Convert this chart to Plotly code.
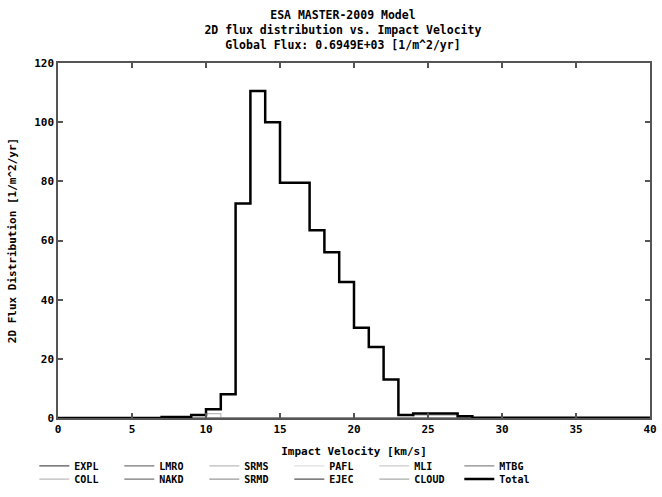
import plotly.graph_objects as go

# Bin edges of impact velocity [km/s] (1 km/s bins, 0..40)
velocity_edges = list(range(0, 41))

# Total 2D flux per bin [1/m^2/yr] (40 bins)
total_flux = [0, 0, 0, 0, 0, 0, 0, 0.3, 0.3, 1.0,
              3.0, 8.0, 72.5, 110.5, 100.0, 79.5, 79.5, 63.5, 56.0, 46.0,
              30.5, 24.0, 13.0, 1.0, 1.5, 1.5, 1.5, 0.6, 0.1, 0.1,
              0.1, 0.1, 0.1, 0.1, 0.1, 0.1, 0.1, 0.1, 0.1, 0.1]

# Visible component (light grey) per bin
coll_flux = [0, 0, 0, 0, 0, 0, 0, 0, 0, 0,
             1.5, 0, 0, 0, 0, 0, 0, 0, 0, 0,
             0, 0, 0, 0, 1.0, 1.0, 1.0, 0, 0, 0,
             0, 0, 0, 0, 0, 0, 0, 0, 0, 0]

zero_flux = [0] * 40

row1_names = ["EXPL", "LMRO", "SRMS", "PAFL", "MLI", "MTBG"]
row2_names = ["COLL", "NAKD", "SRMD", "EJEC", "CLOUD", "Total"]
row1_colors = ["#555555", "#777777", "#bbbbbb", "#e0e0e0", "#cccccc", "#888888"]
row2_colors = ["#bbbbbb", "#777777", "#999999", "#555555", "#aaaaaa", "#000000"]

x_ticks = [0, 5, 10, 15, 20, 25, 30, 35, 40]
y_ticks = [0, 20, 40, 60, 80, 100, 120]

FONT = "DejaVu Sans Mono"


def step_y(vals):
    return list(vals) + [vals[-1]]


fig = go.Figure()

for name, col in zip(row1_names, row1_colors):
    fig.add_trace(go.Scatter(x=velocity_edges, y=step_y(zero_flux), mode="lines",
                             line=dict(shape="hv", color=col, width=1.2),
                             name=name, legend="legend"))

for name, col in zip(row2_names, row2_colors):
    if name == "Total":
        vals, w = total_flux, 2.5
    elif name == "COLL":
        vals, w = coll_flux, 1.2
    else:
        vals, w = zero_flux, 1.2
    fig.add_trace(go.Scatter(x=velocity_edges, y=step_y(vals), mode="lines",
                             line=dict(shape="hv", color=col, width=w),
                             name=name, legend="legend2"))

axis_common = dict(
    showline=True, linecolor="#555555", linewidth=1.5, mirror="ticks",
    ticks="inside", ticklen=5, tickwidth=1.5, tickcolor="#555555",
    showgrid=False, zeroline=False, automargin=False,
    tickfont=dict(family=FONT, size=11, color="black", weight="bold"),
)

fig.update_xaxes(range=[0, 40], tickvals=x_ticks,
                 title=dict(text="Impact Velocity [km/s]", standoff=12,
                            font=dict(family=FONT, size=11, color="black", weight="bold")),
                 **axis_common)
fig.update_yaxes(range=[0, 120], tickvals=y_ticks,
                 title=dict(text="2D Flux Distribution [1/m^2/yr]", standoff=15,
                            font=dict(family=FONT, size=11, color="black", weight="bold")),
                 **axis_common)

legend_common = dict(
    orientation="h", xanchor="left", yanchor="middle",
    entrywidth=40, entrywidthmode="pixels",
    font=dict(family=FONT, size=10, color="black", weight="bold"),
    itemwidth=30, bgcolor="rgba(0,0,0,0)", tracegroupgap=0,
)

fig.update_layout(
    width=662, height=497,
    margin=dict(l=58, r=12, t=63, b=79, autoexpand=False),
    paper_bgcolor="white", plot_bgcolor="white",
    title=dict(
        text="ESA MASTER-2009 Model<br>2D flux distribution vs. Impact Velocity<br>Global Flux: 0.6949E+03 [1/m^2/yr]",
        x=0.518, xanchor="center", y=0.961, yanchor="top", yref="container",
        font=dict(family=FONT, size=11.5, color="black", weight="bold"),
    ),
    legend=dict(x=-0.04, y=-0.135, **legend_common),
    legend2=dict(x=-0.04, y=-0.172, **legend_common),
    showlegend=True,
)

fig.write_html("out.html", config={"displayModeBar": False},
               post_script="document.body.style.margin='0';")
